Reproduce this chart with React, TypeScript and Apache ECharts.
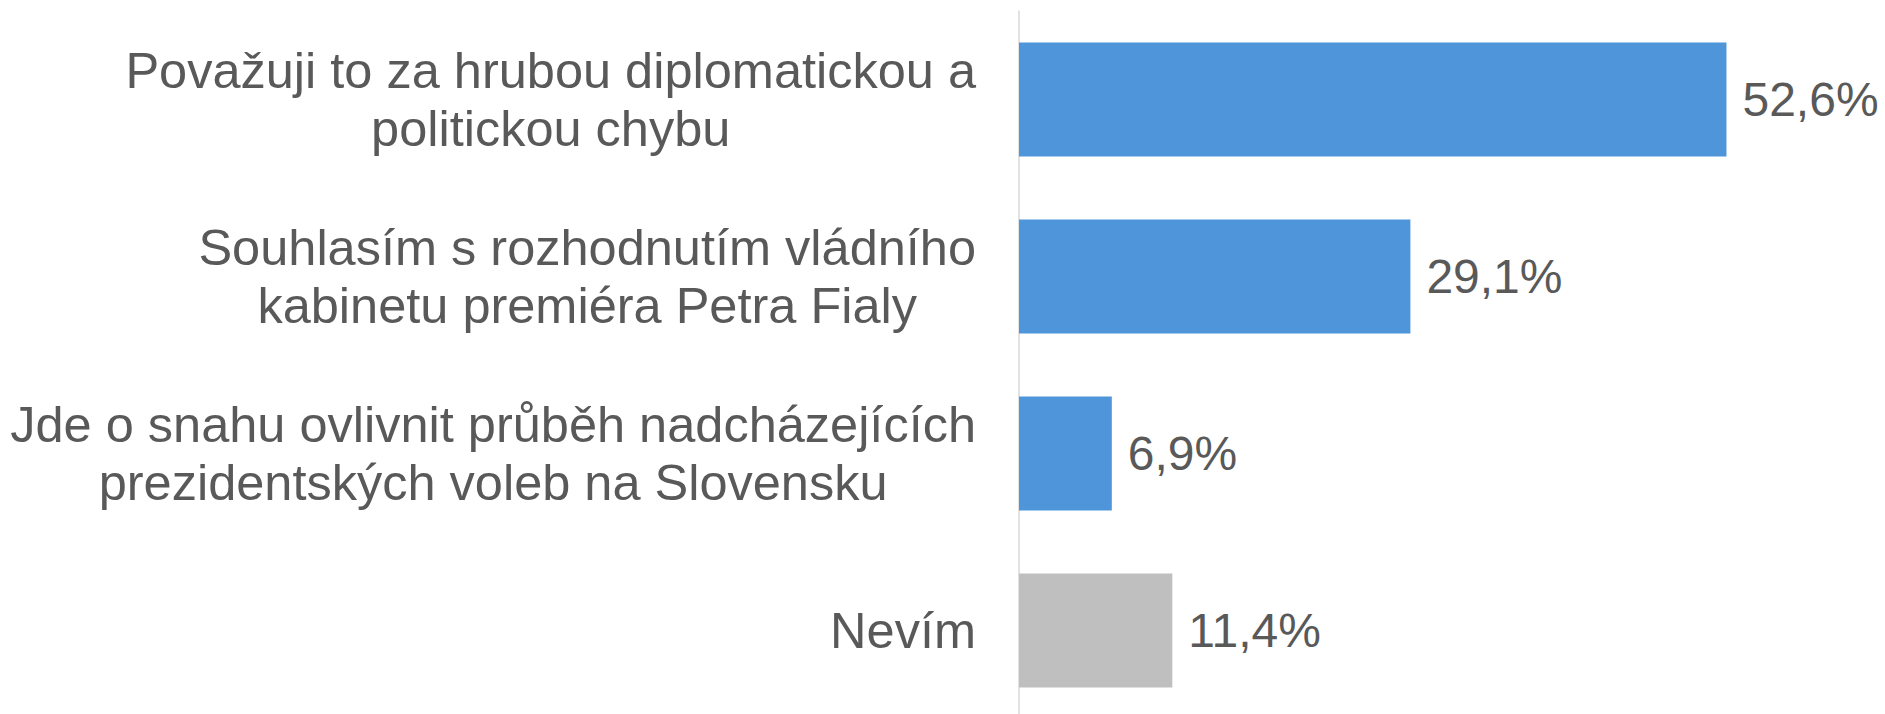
import React, { useEffect, useRef } from "react";
import * as echarts from "echarts";

const categories: string[] = [
  "Považuji to za hrubou diplomatickou a\npolitickou chybu",
  "Souhlasím s rozhodnutím vládního\nkabinetu premiéra Petra Fialy",
  "Jde o snahu ovlivnit průběh nadcházejících\nprezidentských voleb na Slovensku",
  "Nevím",
];
const values: number[] = [52.6, 29.1, 6.9, 11.4];
const barColors: string[] = ["#4f95d9", "#4f95d9", "#4f95d9", "#bfbfbf"];

const FONT = "'Liberation Sans', Arial, sans-serif";
const TEXT = "#595959";

export default function App() {
  const ref = useRef<HTMLDivElement>(null);
  useEffect(() => {
    if (!ref.current) return;
    const chart = echarts.init(ref.current, undefined, { renderer: "svg" });
    chart.setOption({
      animation: false,
      backgroundColor: "#ffffff",
      grid: {
        left: 1019,
        top: 11,
        width: 807,
        height: 708,
        containLabel: false,
        outerBoundsMode: "none",
      },
      xAxis: {
        type: "value",
        min: 0,
        max: 60,
        show: false,
      },
      yAxis: {
        type: "category",
        inverse: true,
        data: categories,
        axisLine: { show: true, lineStyle: { color: "#d9d9d9", width: 1.5 } },
        axisTick: { show: false },
        splitLine: { show: false },
        axisLabel: {
          align: "right",
          margin: 43,
          formatter: (v: string) =>
            v.split("\n").map((l) => `{c|${l}}`).join("\n"),
          rich: {
            c: {
              align: "center",
              fontSize: 50.5,
              lineHeight: 58,
              color: TEXT,
              fontFamily: FONT,
            },
          },
        },
      },
      series: [
        {
          type: "bar",
          data: values.map((v, i) => ({ value: v, itemStyle: { color: barColors[i] } })),
          barCategoryGap: "35.5%",
          label: {
            show: true,
            position: "right",
            distance: 16,
            color: TEXT,
            fontSize: 48,
            fontFamily: FONT,
            formatter: (p: any) => `${Number(p.value).toFixed(1).replace(".", ",")}%`,
          },
        },
      ],
    });
    return () => chart.dispose();
  }, []);
  return (
    <div
      ref={ref}
      style={{ position: "absolute", left: 0, top: 0, width: 1885, height: 714 }}
    />
  );
}
